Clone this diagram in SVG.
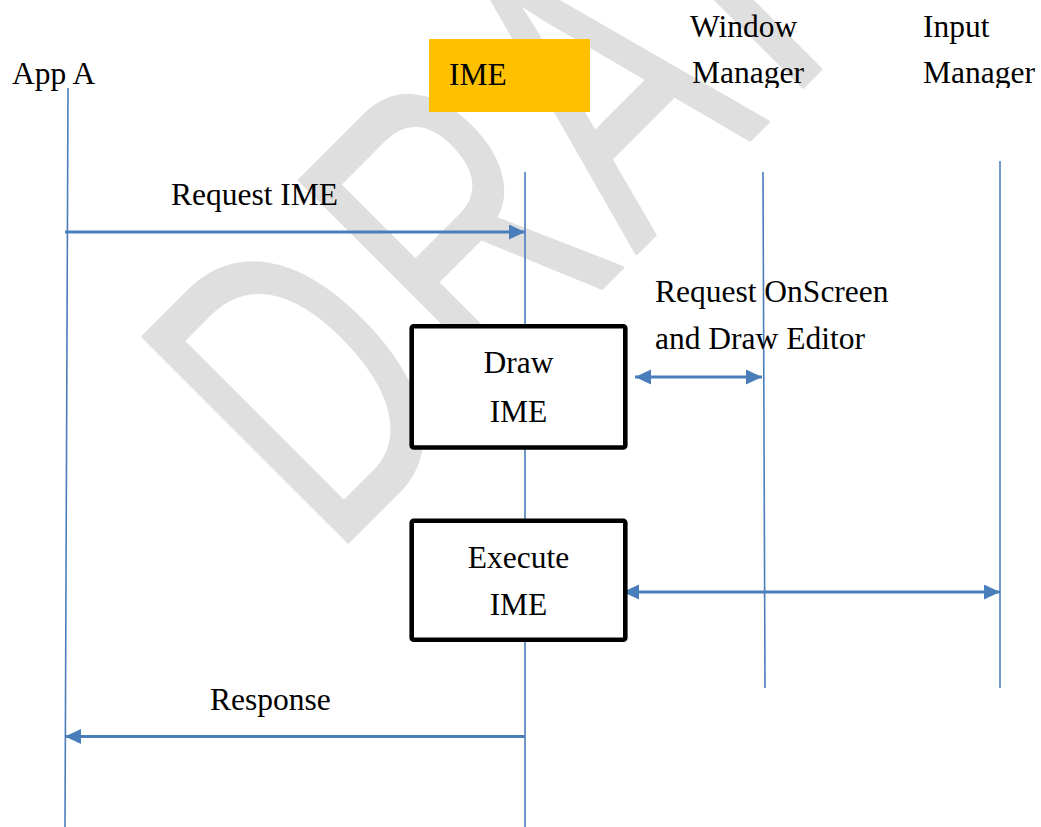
<svg xmlns="http://www.w3.org/2000/svg" width="1041" height="827" viewBox="0 0 1041 827">
  <defs>
    <marker id="ah" markerUnits="userSpaceOnUse" markerWidth="17" markerHeight="16" refX="16" refY="7.5" orient="auto-start-reverse" viewBox="0 0 17 16">
      <path d="M0,0 L16,7.5 L0,15 z" fill="#4a7ebb"/>
    </marker>
    <clipPath id="clipTop">
      <rect x="0" y="0" width="1041" height="88"/>
    </clipPath>
  </defs>
  <style>
    .lbl { font-family: "Liberation Serif", "Times New Roman", serif; font-size: 31.5px; fill: #000; }
    .mid { text-anchor: middle; }
    .life { stroke: #4a7ebb; stroke-width: 1.6; fill: none; }
    .msg { stroke: #4a7ebb; stroke-width: 3; fill: none; }
    .box { fill: #fff; stroke: #000; stroke-width: 4.6; }
    .wm { font-family: "Liberation Sans", Arial, sans-serif; font-size: 422px; fill: #dfdfdf; stroke: #dfdfdf; stroke-width: 3; stroke-linejoin: round; }
  </style>
  <rect x="0" y="0" width="1041" height="827" fill="#fff"/>

  <!-- watermark -->
  <g id="watermark">
    <text class="wm" transform="translate(348,545) rotate(-45) scale(0.67,1)" x="-32 298.5 610.4 928 1188" y="-2">DRAFT</text>
  </g>

  <!-- header nodes -->
  <g id="appA">
    <text class="lbl" x="12" y="83.5">App A</text>
  </g>
  <g id="ime">
    <rect x="429" y="39" width="161" height="73" fill="#ffc000"/>
    <text class="lbl" x="449" y="85">IME</text>
  </g>
  <g id="windowManager" clip-path="url(#clipTop)">
    <text class="lbl" x="690" y="36.5">Window</text>
    <text class="lbl" x="692" y="83">Manager</text>
  </g>
  <g id="inputManager" clip-path="url(#clipTop)">
    <text class="lbl" x="923" y="36.5">Input</text>
    <text class="lbl" x="923" y="83">Manager</text>
  </g>

  <!-- connectors -->
  <g id="connectors">
    <line class="life" x1="68" y1="88" x2="65" y2="827"/>
    <line class="life" x1="525" y1="172" x2="525" y2="827"/>
    <line class="life" x1="763" y1="172" x2="765" y2="688"/>
    <line class="life" x1="1000" y1="161" x2="1000" y2="688"/>
    <line class="msg" x1="65" y1="232" x2="525" y2="232" marker-end="url(#ah)"/>
    <line class="msg" x1="635" y1="377" x2="762" y2="377" marker-start="url(#ah)" marker-end="url(#ah)"/>
    <line class="msg" x1="623" y1="592" x2="1000" y2="592" marker-start="url(#ah)" marker-end="url(#ah)"/>
    <line class="msg" x1="525" y1="736.5" x2="65" y2="736.5" marker-end="url(#ah)"/>
  </g>

  <!-- message labels -->
  <g id="lblRequestIME">
    <text class="lbl" x="171" y="204.5">Request IME</text>
  </g>
  <g id="lblOnScreen">
    <text class="lbl" x="655" y="302">Request OnScreen</text>
    <text class="lbl" x="655" y="349">and Draw Editor</text>
  </g>
  <g id="lblResponse">
    <text class="lbl" x="210" y="710">Response</text>
  </g>

  <!-- activation boxes -->
  <g id="drawIME">
    <rect class="box" x="411.7" y="326.3" width="213.6" height="121.2" rx="2"/>
    <text class="lbl mid" x="518.5" y="373">Draw</text>
    <text class="lbl mid" x="518.5" y="422">IME</text>
  </g>
  <g id="executeIME">
    <rect class="box" x="411.7" y="520.8" width="213.6" height="119" rx="2"/>
    <text class="lbl mid" x="518.5" y="568">Execute</text>
    <text class="lbl mid" x="518.5" y="615">IME</text>
  </g>
</svg>
